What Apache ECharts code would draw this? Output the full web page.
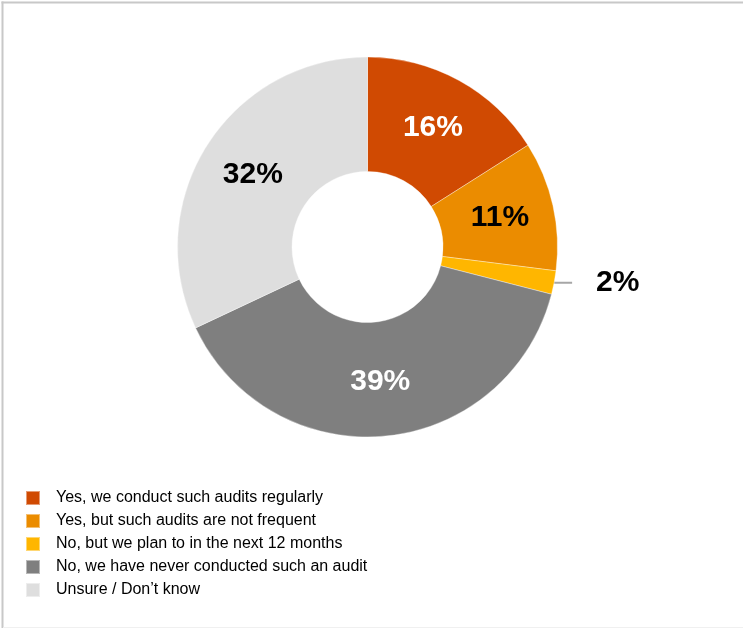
<!DOCTYPE html>
<html>
<head>
<meta charset="utf-8">
<script src="https://cdn.jsdelivr.net/npm/echarts@6/dist/echarts.min.js"></script>
<style>
  html, body { margin: 0; padding: 0; background: #fff; }
  #chart { width: 743px; height: 628px; }
</style>
</head>
<body>
<div id="chart"></div>
<script>
// Survey answers and their shares (%)
const categories = [
  'Yes, we conduct such audits regularly',
  'Yes, but such audits are not frequent',
  'No, but we plan to in the next 12 months',
  'No, we have never conducted such an audit',
  'Unsure / Don\u2019t know'
];
const shares = [16, 11, 2, 39, 32];
const sliceColors = ['#D04A02', '#EB8C00', '#FFB600', '#7F7F7F', '#DEDEDE'];
const labelColors = ['#ffffff', '#000000', '#000000', '#ffffff', '#000000'];
// the thin slice gets its label outside with a leader line
const outsideLabel = [false, false, true, false, false];

const chart = echarts.init(document.getElementById('chart'), null, { renderer: 'canvas' });

const data = categories.map((name, i) => {
  const item = {
    name: name,
    value: shares[i],
    itemStyle: { color: sliceColors[i] },
    label: { color: labelColors[i] }
  };
  if (outsideLabel[i]) {
    item.label.position = 'outside';
    item.label.distanceToLabelLine = 24;
    item.labelLine = { show: true, length: 1, length2: 17, lineStyle: { color: '#a6a6a6', width: 2 } };
  }
  return item;
});

chart.setOption({
  animation: false,
  backgroundColor: '#ffffff',
  legend: {
    orient: 'vertical',
    left: 25,
    top: 489,
    padding: 0,
    itemWidth: 14,
    itemHeight: 14,
    itemGap: 5,
    icon: 'rect',
    selectedMode: false,
    textStyle: {
      fontFamily: 'Liberation Sans, Arial, sans-serif',
      fontSize: 16,
      lineHeight: 18,
      color: '#000',
      padding: [0, 0, 0, 11]
    },
    data: categories
  },
  graphic: [
    { type: 'line', shape: { x1: 2.5, y1: 1.5, x2: 2.5, y2: 628 }, style: { stroke: '#c8c8c8', lineWidth: 2 }, silent: true },
    { type: 'line', shape: { x1: 1.5, y1: 2.5, x2: 743, y2: 2.5 }, style: { stroke: '#c8c8c8', lineWidth: 2 }, silent: true },
    { type: 'line', shape: { x1: 3, y1: 627.5, x2: 743, y2: 627.5 }, style: { stroke: '#f0f0f0', lineWidth: 1 }, silent: true }
  ],
  series: [{
    type: 'pie',
    center: [367.5, 247],
    radius: [75.5, 190],
    startAngle: 90,
    clockwise: true,
    avoidLabelOverlap: false,
    silent: true,
    itemStyle: { borderColor: 'rgba(255,255,255,0.45)', borderWidth: 0.8 },
    label: {
      show: true,
      position: 'inside',
      formatter: '{c}%',
      fontFamily: 'Liberation Sans, Arial, sans-serif',
      fontWeight: 'bold',
      fontSize: 30
    },
    labelLine: { show: false },
    data: data
  }]
});
</script>
</body>
</html>
